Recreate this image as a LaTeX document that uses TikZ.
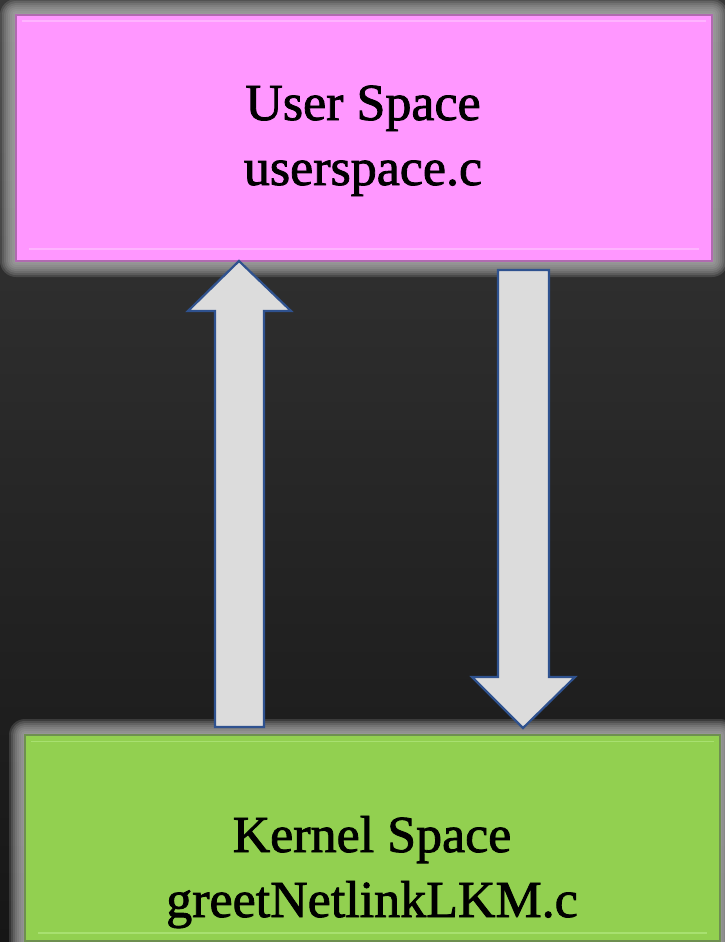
\documentclass[tikz,border=0pt]{standalone}
\usepackage{fontspec}
\setmainfont[FakeBold=1.6]{Liberation Serif}
\definecolor{bgtop}{HTML}{383838}
\definecolor{bgbot}{HTML}{161616}
\definecolor{glowgray}{HTML}{B0B0B0}
\definecolor{pinkfill}{HTML}{FF97FF}
\definecolor{pinkedge}{HTML}{B06AB0}
\definecolor{pinkhi}{HTML}{FFB4FF}
\definecolor{greenfill}{HTML}{92D050}
\definecolor{greenedge}{HTML}{6E8F50}
\definecolor{greenhi}{HTML}{A8E070}
\definecolor{arrowfill}{HTML}{DCDCDC}
\definecolor{arrowedge}{HTML}{2F528F}
\tikzset{
  boxstyle/.style={draw, line width=1.2pt, inner sep=0pt},
  userbox/.style={boxstyle, fill=pinkfill, draw=pinkedge},
  kernelbox/.style={boxstyle, fill=greenfill, draw=greenedge},
  lbl/.style={font=\fontsize{52}{65}\selectfont, text=black, inner sep=0pt, anchor=base},
  blockarrow/.style={fill=arrowfill, draw=arrowedge, line width=2.2pt, line join=miter},
  glowlayer/.style={fill=glowgray, opacity=0.2}
}
\begin{document}
\begin{tikzpicture}[x=1pt,y=-1pt]
\useasboundingbox (0,0) rectangle (725,942);
\shade[top color=bgtop, bottom color=bgbot] (0,0) rectangle (725,942);
% glows
\foreach \e in {16,14,...,2} {
  \fill[glowlayer, rounded corners=\e pt] (16-\e,15-\e) rectangle (712+\e,261+\e);
  \fill[glowlayer, rounded corners=\e pt] (25-\e,735-\e) rectangle (720+\e,941+\e);
}
% boxes
\node[userbox, minimum width=696pt, minimum height=246pt] (user) at (364,138) {};
\node[kernelbox, minimum width=695pt, minimum height=206pt] (kernel) at (372.5,838) {};
% bevel highlights
\draw[pinkhi, line width=1.8pt] ([xshift=7pt,yshift=-7pt]user.north west) -- ([xshift=-7pt,yshift=-7pt]user.north east);
\draw[pinkhi, line width=1.8pt] ([xshift=14pt,yshift=13pt]user.south west) -- ([xshift=-14pt,yshift=13pt]user.south east);
\draw[greenhi, line width=1.8pt] ([xshift=7pt,yshift=-7pt]kernel.north west) -- ([xshift=-7pt,yshift=-7pt]kernel.north east);
\draw[greenhi, line width=1.8pt] ([xshift=14pt,yshift=9pt]kernel.south west) -- ([xshift=-14pt,yshift=9pt]kernel.south east);
% labels
\node[lbl] (u1) at (363,120) {User Space};
\node[lbl] (u2) at (363,185) {userspace.c};
\node[lbl] (k1) at (372,852) {Kernel Space};
\node[lbl] (k2) at (372,917) {greetNetlinkLKM.c};
% block arrows
\coordinate (uptip) at (239,261);
\coordinate (downtip) at (523,728);
\draw[blockarrow] (uptip) -- (291,311) -- (264,311) -- (264,727) -- (215,727) -- (215,311) -- (188,311) -- cycle;
\draw[blockarrow] (498,270) -- (549,270) -- (549,677) -- (575,677) -- (downtip) -- (472,677) -- (498,677) -- cycle;
\end{tikzpicture}
\end{document}
